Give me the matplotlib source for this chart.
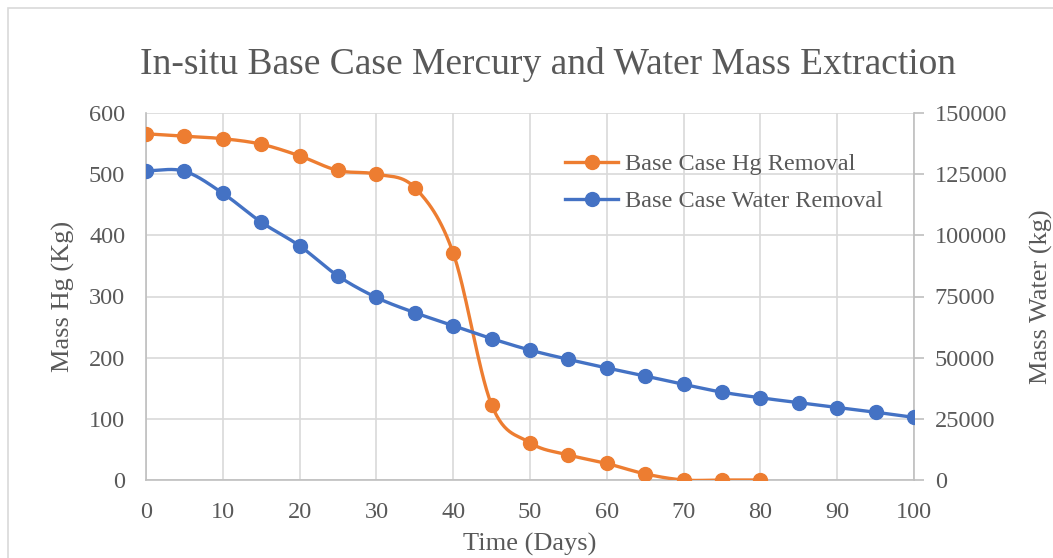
import numpy as np
import matplotlib
matplotlib.use('Agg')
import matplotlib.pyplot as plt
from matplotlib.patches import Rectangle

# %%
days_hg = [0, 5, 10, 15, 20, 25, 30, 35, 40, 45, 50, 55, 60, 65, 70, 75, 80]
hg_mass = [566, 562, 558, 549, 530, 506, 500, 478, 371, 123, 61, 41, 27, 10, 0, 0, 0]

days_water = [0, 5, 10, 15, 20, 25, 30, 35, 40, 45, 50, 55, 60, 65, 70, 75, 80,
              85, 90, 95, 100]
water_mass = [126400, 126200, 117200, 105400, 95700, 83400, 74600, 68400, 63100,
              57800, 53100, 49300, 45800, 42500, 39100, 35900, 33600, 31600,
              29600, 27700, 25600]

ORANGE = '#ED7D31'
BLUE = '#4472C4'
TEXT = '#595959'
GRID = '#D9D9D9'
SPINE = '#BFBFBF'

plt.rcParams['font.family'] = ['Liberation Serif', 'DejaVu Serif']


def smooth(x, y, n=30):
    # catmull-rom curve through the points, like the smoothed line option in excel
    x = np.asarray(x, float)
    y = np.asarray(y, float)
    px = np.concatenate([[2 * x[0] - x[1]], x, [2 * x[-1] - x[-2]]])
    py = np.concatenate([[2 * y[0] - y[1]], y, [2 * y[-1] - y[-2]]])
    xs, ys = [], []
    t = np.linspace(0, 1, n, endpoint=False)
    for i in range(1, len(px) - 2):
        for p, out in ((px, xs), (py, ys)):
            p0, p1, p2, p3 = p[i - 1], p[i], p[i + 1], p[i + 2]
            out.append(0.5 * (2 * p1 + (-p0 + p2) * t
                              + (2 * p0 - 5 * p1 + 4 * p2 - p3) * t ** 2
                              + (-p0 + 3 * p1 - 3 * p2 + p3) * t ** 3))
    xs.append([x[-1]])
    ys.append([y[-1]])
    return np.concatenate(xs), np.concatenate(ys)


fig = plt.figure(figsize=(10.53, 5.58), dpi=100)
fig.patches.append(Rectangle((8 / 1053, -0.1), 1.2, 1 - 8 / 558 + 0.1,
                             transform=fig.transFigure, fill=False,
                             edgecolor=GRID, linewidth=1.2))

ax = fig.add_axes([146 / 1053, 1 - 480 / 558, (914 - 146) / 1053, (480 - 113) / 558])
ax2 = ax.twinx()

sx, sy = smooth(days_hg, hg_mass)
ax.plot(sx, sy, color=ORANGE, lw=2.4, solid_capstyle='round', zorder=3)
ax.plot(days_hg, hg_mass, 'o', color=ORANGE, ms=10, zorder=4)

sx, sy = smooth(days_water, water_mass)
ax2.plot(sx, sy, color=BLUE, lw=2.4, solid_capstyle='round', zorder=3)
ax2.plot(days_water, water_mass, 'o', color=BLUE, ms=10, zorder=4)

ax.set_xlim(0, 100)
ax.set_ylim(0, 600)
ax2.set_ylim(0, 150000)
ax.set_xticks(range(0, 101, 10))
ax.set_yticks(range(0, 601, 100))
ax2.set_yticks(range(0, 150001, 25000))
ax2.set_yticklabels([str(v) for v in range(0, 150001, 25000)])

ax.grid(True, color=GRID, lw=1.2)
ax.set_axisbelow(True)
for a in (ax, ax2):
    for s in a.spines.values():
        s.set_visible(False)
ax.spines['bottom'].set_visible(True)
ax.spines['bottom'].set_color(SPINE)
ax.spines['left'].set_visible(True)
ax.spines['left'].set_color(SPINE)
ax2.spines['right'].set_visible(True)
ax2.spines['right'].set_color(SPINE)
for s in (ax.spines['bottom'], ax.spines['left'], ax2.spines['right']):
    s.set_linewidth(1.2)

ax.tick_params(axis='both', length=0, labelsize=17.5, labelcolor=TEXT)
ax.tick_params(axis='y', pad=15)
ax.tick_params(axis='x', pad=16)
ax2.tick_params(axis='y', length=7, width=1.2, color=SPINE, labelsize=17.5,
                labelcolor=TEXT, pad=8)

ax.set_xlabel('Time (Days)', fontsize=19, color=TEXT, labelpad=7)
ax.set_ylabel('Mass Hg (Kg)', fontsize=19, color=TEXT, labelpad=10)
ax2.set_ylabel('Mass Water (kg)', fontsize=19, color=TEXT, rotation=90, labelpad=16)

fig.text(548 / 1053, 1 - 65 / 558, 'In-situ Base Case Mercury and Water Mass Extraction',
         fontsize=27, color=TEXT, ha='center', va='center')

h1 = plt.Line2D([], [], color=ORANGE, lw=2.4, marker='o', ms=10)
h2 = plt.Line2D([], [], color=BLUE, lw=2.4, marker='o', ms=10)
fig.legend([h1, h2], ['Base Case Hg Removal', 'Base Case Water Removal'],
           loc='upper left', bbox_to_anchor=(565 / 1053, 1 - 153 / 558),
           bbox_transform=fig.transFigure, frameon=False, fontsize=17.5,
           labelcolor=TEXT, handlelength=2.2, handletextpad=0.25,
           labelspacing=0.62, borderpad=0, borderaxespad=0)

fig.savefig('out.png', dpi=100)
